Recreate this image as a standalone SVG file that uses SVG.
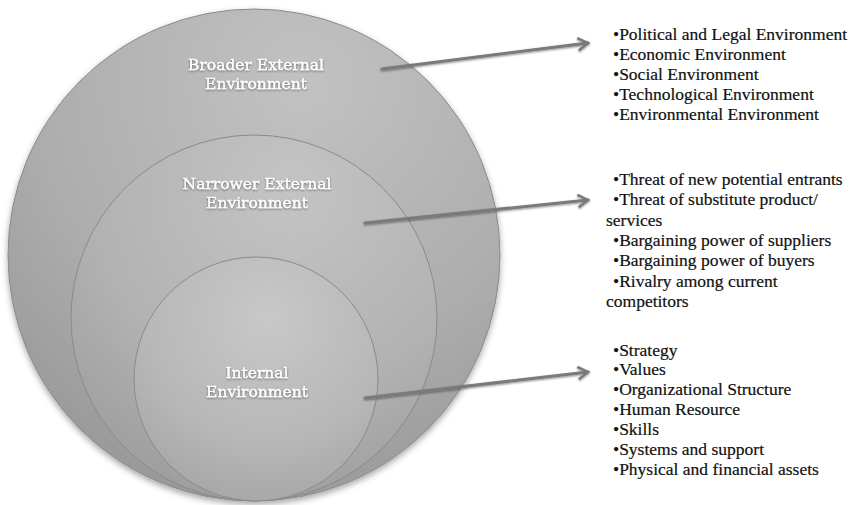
<svg xmlns="http://www.w3.org/2000/svg" width="855" height="505" viewBox="0 0 855 505">
<style>
.ring{stroke:#8a8a8a;stroke-width:1}
.lbl{font-family:"DejaVu Serif","Liberation Serif",serif;font-size:15.5px;fill:#ffffff;text-anchor:middle;stroke:#ffffff;stroke-width:0.3}
.lst{font-family:"Liberation Serif","Times New Roman",serif;font-size:17.5px;fill:#111;stroke:#111;stroke-width:0.2}
.conn{stroke:#7a7a7a;stroke-width:3;fill:none;stroke-linecap:round}
</style>
<defs>
<radialGradient id="gOuter" cx="0.6" cy="0.15" r="0.9">
<stop offset="0" stop-color="#c2c2c2"/>
<stop offset="0.6" stop-color="#adadad"/>
<stop offset="1" stop-color="#979797"/>
</radialGradient>
<radialGradient id="gMid" cx="0.6" cy="0.15" r="0.9">
<stop offset="0" stop-color="#c4c4c4"/>
<stop offset="0.6" stop-color="#b2b2b2"/>
<stop offset="1" stop-color="#9c9c9c"/>
</radialGradient>
<radialGradient id="gIn" cx="0.55" cy="0.25" r="0.85">
<stop offset="0" stop-color="#c8c8c8"/>
<stop offset="0.6" stop-color="#b7b7b7"/>
<stop offset="1" stop-color="#a2a2a2"/>
</radialGradient>
<filter id="sh" x="-10%" y="-10%" width="120%" height="125%">
<feDropShadow dx="0" dy="3" stdDeviation="3" flood-color="#000" flood-opacity="0.35"/>
</filter>
<filter id="tsh" x="-10%" y="-30%" width="120%" height="160%">
<feDropShadow dx="0" dy="1" stdDeviation="0.8" flood-color="#000" flood-opacity="0.45"/>
</filter>
<marker id="arr" viewBox="0 0 12 12" refX="10" refY="6" markerWidth="5" markerHeight="5" orient="auto" markerUnits="strokeWidth">
<path d="M2,1 L10,6 L2,11" fill="none" stroke="#7a7a7a" stroke-width="2"/>
</marker>
</defs>
<rect width="855" height="505" fill="#ffffff"/>
<g id="broader">
<circle class="ring" cx="254" cy="255" r="246" fill="url(#gOuter)" filter="url(#sh)"/>
<g filter="url(#tsh)">
<text class="lbl" x="256" y="70">Broader External</text>
<text class="lbl" x="256" y="89">Environment</text>
</g>
</g>
<g id="narrower">
<circle class="ring" cx="254" cy="318" r="183" fill="url(#gMid)"/>
<g filter="url(#tsh)">
<text class="lbl" x="257" y="189">Narrower External</text>
<text class="lbl" x="257" y="208">Environment</text>
</g>
</g>
<g id="internal">
<circle class="ring" cx="256" cy="379" r="122" fill="url(#gIn)"/>
<g filter="url(#tsh)">
<text class="lbl" x="257" y="378">Internal</text>
<text class="lbl" x="257" y="397">Environment</text>
</g>
</g>
<g id="connectors" filter="url(#tsh)">
<line class="conn" x1="382" y1="69" x2="588" y2="43" marker-end="url(#arr)"/>
<line class="conn" x1="365" y1="223" x2="588" y2="200" marker-end="url(#arr)"/>
<line class="conn" x1="365" y1="398" x2="588" y2="372" marker-end="url(#arr)"/>
</g>
<g id="list-broader">
<text class="lst" x="613" y="40">•Political and Legal Environment</text>
<text class="lst" x="613" y="60">•Economic Environment</text>
<text class="lst" x="613" y="80">•Social Environment</text>
<text class="lst" x="613" y="100">•Technological Environment</text>
<text class="lst" x="613" y="120">•Environmental Environment</text>
</g>
<g id="list-narrower">
<text class="lst" x="613" y="185">•Threat of new potential entrants</text>
<text class="lst" x="613" y="205">•Threat of substitute product/</text>
<text class="lst" x="606" y="226">services</text>
<text class="lst" x="613" y="246">•Bargaining power of suppliers</text>
<text class="lst" x="613" y="266">•Bargaining power of buyers</text>
<text class="lst" x="613" y="287">•Rivalry among current</text>
<text class="lst" x="606" y="307">competitors</text>
</g>
<g id="list-internal">
<text class="lst" x="613" y="356">•Strategy</text>
<text class="lst" x="613" y="375">•Values</text>
<text class="lst" x="613" y="395">•Organizational Structure</text>
<text class="lst" x="613" y="415">•Human Resource</text>
<text class="lst" x="613" y="435">•Skills</text>
<text class="lst" x="613" y="455">•Systems and support</text>
<text class="lst" x="613" y="475">•Physical and financial assets</text>
</g>
</svg>
